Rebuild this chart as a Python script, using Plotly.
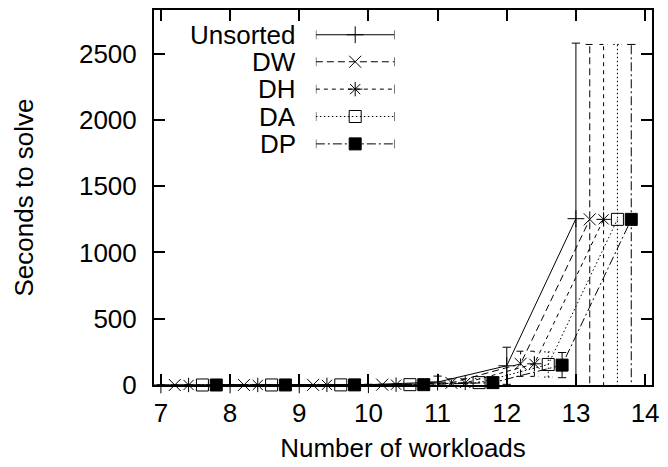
import plotly.graph_objects as go

workloads = [7, 8, 9, 10, 11, 12, 13]
series_names = ["Unsorted", "DW", "DH", "DA", "DP"]
offsets = [0.0, 0.2, 0.4, 0.6, 0.8]
means = {
    "Unsorted": [0.1, 0.3, 0.8, 2.5, 22, 145, 1255],
    "DW":       [0.1, 0.3, 0.8, 2.5, 16, 160, 1250],
    "DH":       [0.1, 0.3, 0.8, 2.5, 16, 160, 1250],
    "DA":       [0.1, 0.3, 0.8, 2.5, 18, 155, 1250],
    "DP":       [0.1, 0.3, 0.8, 2.5, 18, 150, 1250],
}
errors = {
    "Unsorted": [0.1, 0.2, 0.5, 3, 45, 140, 1325],
    "DW":       [0.1, 0.2, 0.5, 3, 30, 95, 1320],
    "DH":       [0.1, 0.2, 0.5, 3, 30, 95, 1320],
    "DA":       [0.1, 0.2, 0.5, 3, 30, 95, 1320],
    "DP":       [0.1, 0.2, 0.5, 3, 30, 95, 1320],
}
yticks = [0, 500, 1000, 1500, 2000, 2500]
xticks = [7, 8, 9, 10, 11, 12, 13, 14]

symbols = ["cross-thin-open", "x-thin-open", "asterisk-open", "square-open", "square"]
dashes = ["solid", "7px,4px", "4px,4px", "1.5px,2.5px", "9px,3px,2px,3px"]
FONT = "Liberation Sans, Arial, sans-serif"
FS = 26
CAP = 0.06  # cap half-width in x units

fig = go.Figure()
for k, name in enumerate(series_names):
    xs = [w + offsets[k] for w in workloads]
    ys = means[name]
    es = errors[name]
    ex, ey = [], []
    for x, y, e in zip(xs, ys, es):
        lo, hi = y - e, y + e
        ex += [x, x, None, x - CAP, x + CAP, None, x - CAP, x + CAP, None]
        ey += [lo, hi, None, hi, hi, None, lo, lo, None]
    fig.add_trace(go.Scatter(x=ex, y=ey, mode="lines", showlegend=False,
                             line=dict(color="black", width=1, dash=dashes[k]),
                             hoverinfo="skip"))
    fig.add_trace(go.Scatter(x=xs, y=ys, mode="lines+markers", name=name, showlegend=False,
                             line=dict(color="black", width=1, dash=dashes[k]),
                             marker=dict(symbol=symbols[k], size=12, color="black",
                                         line=dict(color="black", width=1)),
                             cliponaxis=False))

# gnuplot-style key (text left, sample right)
row_y = [0.934, 0.862, 0.789, 0.716, 0.643]
for k, name in enumerate(series_names):
    fig.add_trace(go.Scatter(x=[0, 1], y=[row_y[k]] * 2, mode="lines",
                             xaxis="x2", yaxis="y2", showlegend=False, hoverinfo="skip",
                             line=dict(color="black", width=1, dash=dashes[k]),
                             error_y=dict(type="data", array=[0.012, 0.012], symmetric=True,
                                          width=0, thickness=1, color="black")))
    fig.add_trace(go.Scatter(x=[0.5], y=[row_y[k]], mode="markers",
                             xaxis="x2", yaxis="y2", showlegend=False, hoverinfo="skip",
                             marker=dict(symbol=symbols[k], size=12, color="black",
                                         line=dict(color="black", width=1)),
                             cliponaxis=False))
    fig.add_annotation(xref="paper", yref="paper", x=0.287, y=row_y[k], text=name,
                       showarrow=False, xanchor="right", yanchor="middle",
                       height=26, borderpad=0,
                       font=dict(family=FONT, size=FS, color="black"))

axis_common = dict(showgrid=False, zeroline=False, showline=True, linecolor="black",
                   linewidth=2, mirror="allticks", ticks="inside", ticklen=11,
                   tickwidth=2, tickcolor="black",
                   tickfont=dict(family=FONT, size=FS, color="black"))

fig.update_layout(
    width=668, height=467,
    margin=dict(l=154, r=13, t=8, b=82),
    paper_bgcolor="white", plot_bgcolor="rgba(0,0,0,0)",
    showlegend=False,
    xaxis=dict(range=[6.9, 14.1], tickvals=xticks, ticktext=[str(t) for t in xticks],
               title=dict(text="Number of workloads", font=dict(family=FONT, size=FS, color="black"),
                          standoff=12),
               ticklabelstandoff=4, **axis_common),
    yaxis=dict(range=[0, 2830], tickvals=yticks, ticktext=[str(t) for t in yticks],
               title=dict(text="Seconds to solve", font=dict(family=FONT, size=FS, color="black"),
                          standoff=38),
               ticklabelstandoff=10, **axis_common),
    xaxis2=dict(domain=[0.325, 0.483], range=[0, 1], visible=False, anchor="y2"),
    yaxis2=dict(domain=[0, 1], range=[0, 1], visible=False, anchor="x2"),
)

fig.write_html("out.html")
